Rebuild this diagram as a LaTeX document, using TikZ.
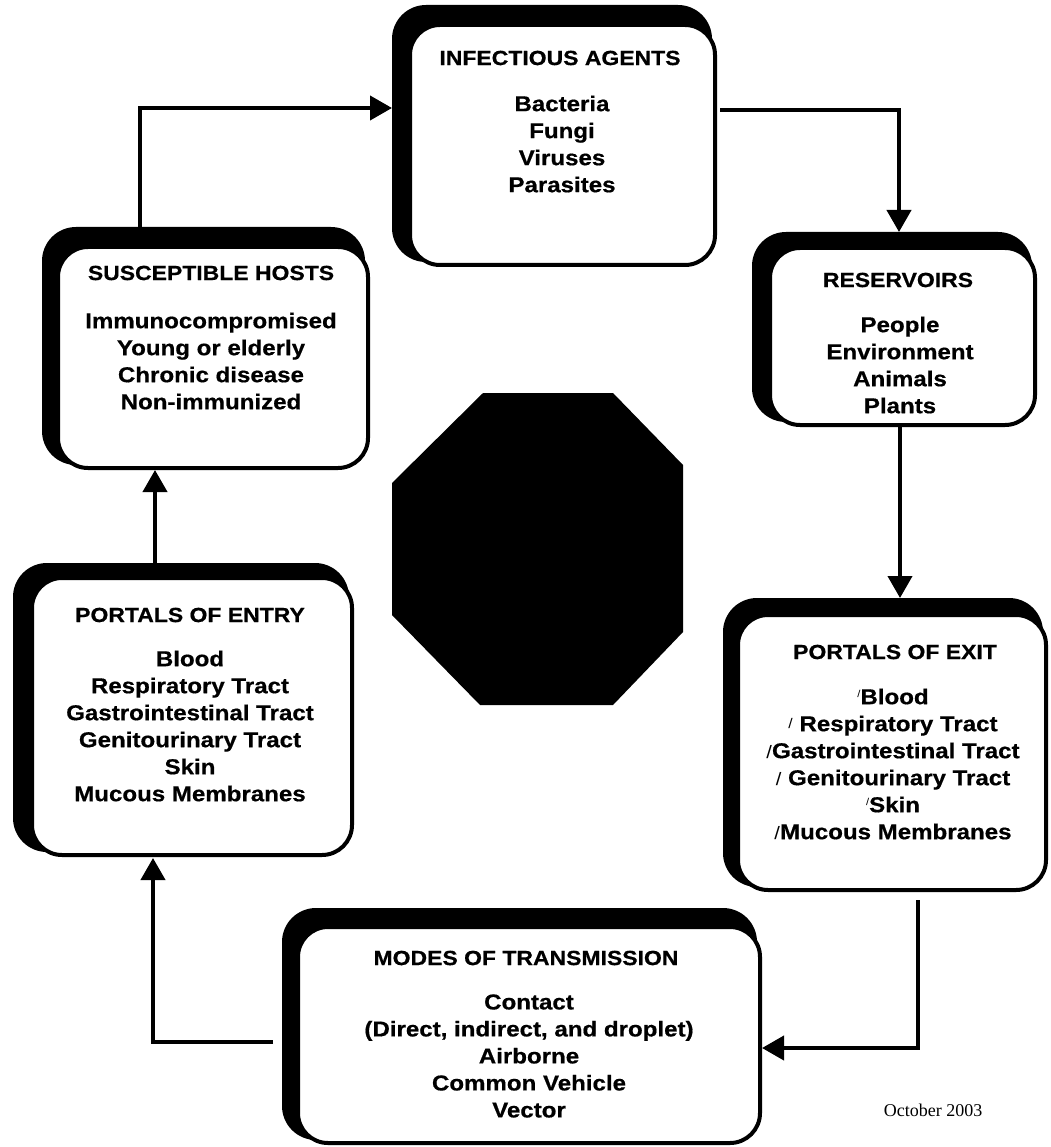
\documentclass[tikz,border=0pt]{standalone}
\usepackage{fontspec}
\setmainfont{Liberation Sans}[FakeStretch=1.12, BoldFeatures={FakeBold=0.6}]
\newfontfamily\datefont{Liberation Serif}
\usetikzlibrary{calc,arrows.meta,backgrounds}
\newcommand\tkA{\raisebox{7pt}{\fontsize{10}{10}\selectfont\mdseries/}}
\newcommand\tkB{\raisebox{3pt}{\fontsize{14}{14}\selectfont\mdseries/}}
\newcommand\tkC{{\fontsize{18}{27}\selectfont\mdseries/}}
\begin{document}
\begin{tikzpicture}[x=1pt,y=-1pt,
  cbox/.style={draw=black, fill=white, line width=4pt, rounded corners=30pt,
    inner sep=0pt, outer sep=0pt, anchor=north west},
  shadowfill/.style={fill=black, rounded corners=34pt},
  ttl/.style={font=\fontsize{20.5}{24}\selectfont\bfseries, inner sep=0pt},
  bdy/.style={font=\fontsize{21.5}{27}\selectfont\bfseries, align=center, inner sep=0pt},
  arr/.style={line width=4pt, -{Triangle[length=22pt,width=24pt]}},
  ]
\useasboundingbox (0,0) rectangle (1050,1147);

% boxes
\node[cbox, minimum width=305pt, minimum height=240pt] (ia) at (410,25) {};
\node[cbox, minimum width=265pt, minimum height=177pt] (res) at (770,248) {};
\node[cbox, minimum width=308pt, minimum height=275pt] (pex) at (738,615) {};
\node[cbox, minimum width=462pt, minimum height=216pt] (modes) at (298,927) {};
\node[cbox, minimum width=320pt, minimum height=277pt] (pen) at (32,578) {};
\node[cbox, minimum width=310pt, minimum height=221pt] (sh) at (58,247) {};

\begin{scope}[on background layer]
\fill[white] (0,0) rectangle (1050,1147);
\fill[shadowfill] ($(ia.north west)+(-18,-20)$) rectangle ($(ia.south east)+(-3,-3)$);
\fill[shadowfill] ($(res.north west)+(-18,-16)$) rectangle ($(res.south east)+(-3,-3)$);
\fill[shadowfill] ($(pex.north west)+(-15,-17)$) rectangle ($(pex.south east)+(-3,-3)$);
\fill[shadowfill] ($(modes.north west)+(-16,-19)$) rectangle ($(modes.south east)+(-3,-3)$);
\fill[shadowfill] ($(pen.north west)+(-19,-15)$) rectangle ($(pen.south east)+(-3,-3)$);
\fill[shadowfill] ($(sh.north west)+(-16,-20)$) rectangle ($(sh.south east)+(-3,-3)$);
\end{scope}

% texts
\node[ttl] (iat) at (560,58) {INFECTIOUS AGENTS};
\node[bdy] (iab) at (562,144) {Bacteria\\Fungi\\Viruses\\Parasites};

\node[ttl] (rest) at (898,280) {RESERVOIRS};
\node[bdy] (resb) at (900,365) {People\\Environment\\Animals\\Plants};

\node[ttl] (pext) at (895,652) {PORTALS OF EXIT};
\node[bdy] (pexb) at (893,764) {\tkA Blood\\\tkB\ Respiratory Tract\\\tkC Gastrointestinal Tract\\\tkC\ Genitourinary Tract\\\tkA Skin\\\tkC Mucous Membranes};

\node[ttl] (modest) at (526,958) {MODES OF TRANSMISSION};
\node[bdy] (modesb) at (529,1056) {Contact\\(Direct, indirect, and droplet)\\Airborne\\Common Vehicle\\Vector};

\node[ttl] (pent) at (190,615) {PORTALS OF ENTRY};
\node[bdy] (penb) at (190,726) {Blood\\Respiratory Tract\\Gastrointestinal Tract\\Genitourinary Tract\\Skin\\Mucous Membranes};

\node[ttl] (sht) at (211,273) {SUSCEPTIBLE HOSTS};
\node[bdy] (shb) at (211,361) {Immunocompromised\\Young or elderly\\Chronic disease\\Non-immunized};

% octagon
\fill (483,393) -- (613,393) -- (683,465) -- (683,632) -- (613,705) -- (480,705) -- (392,615) -- (392,483) -- cycle;

% arrows
\draw[arr] ($(sh.north west)+(82,0)$) |- ($(ia.north west)+(-18,83)$);
\draw[arr] ($(ia.north east)+(5,85)$) -| ($(res.north west)+(129,-16)$);
\draw[arr] ($(res.south west)+(130,0)$) -- ($(pex.north west)+(162,-17)$);
\draw[arr] ($(pex.south west)+(180,10)$) |- ($(modes.north east)+(2,121)$);
\draw[arr] ($(modes.north west)+(-25,115)$) -| ($(pen.south west)+(121,3)$);
\draw[arr] ($(pen.north west)+(123,-15)$) -- ($(sh.south west)+(97,2)$);

\node[font=\datefont\fontsize{18}{18}\selectfont] (date) at (933,1110) {October 2003};
\end{tikzpicture}
\end{document}
